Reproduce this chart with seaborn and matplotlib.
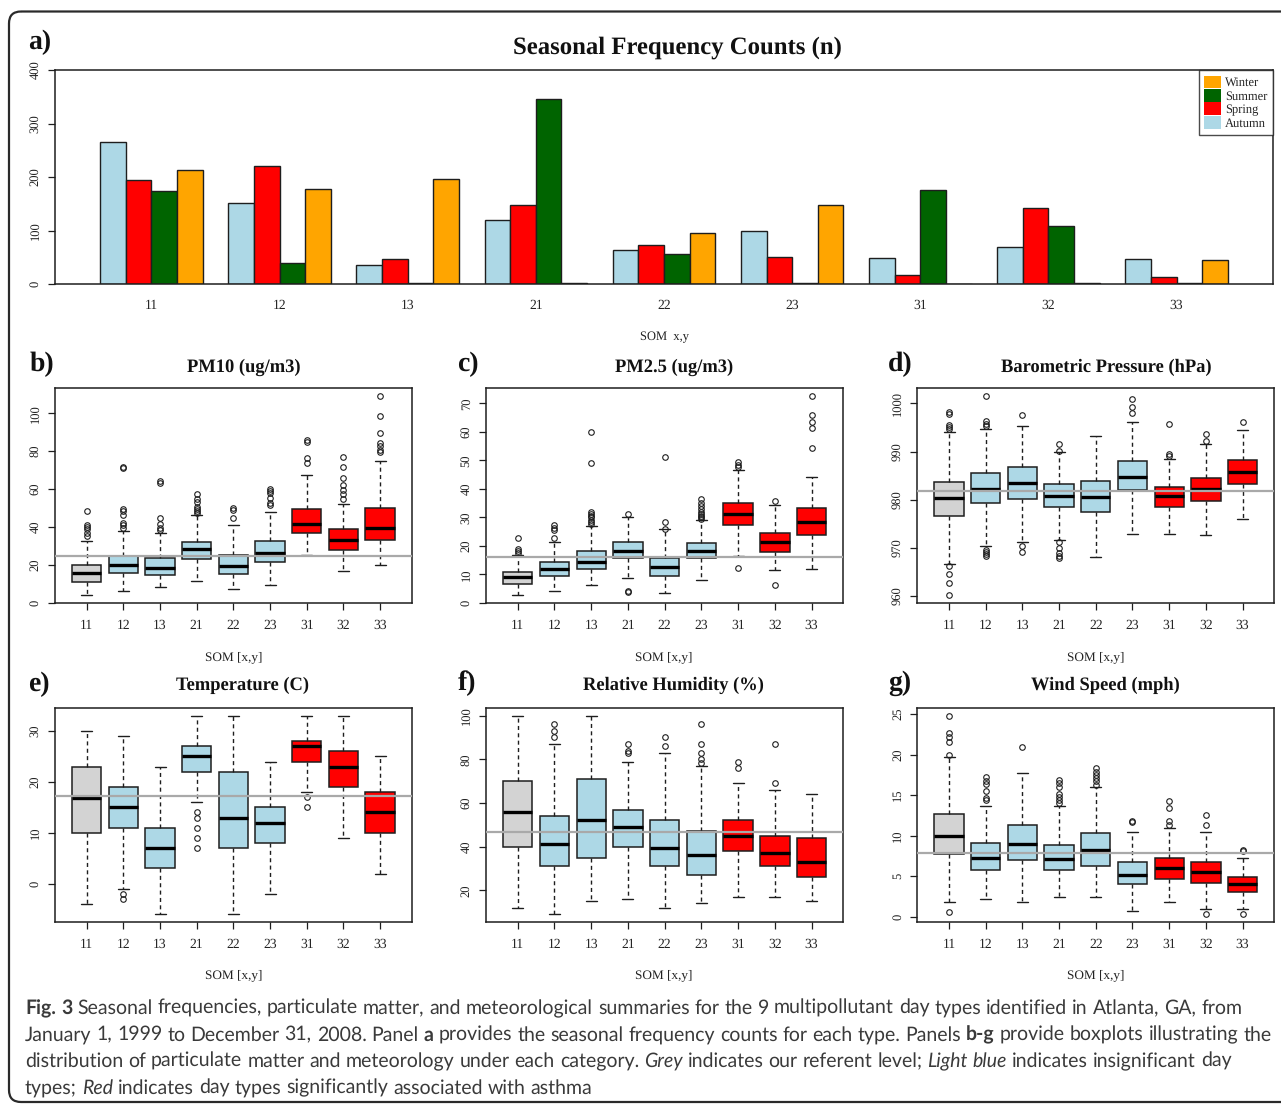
import numpy as np
import pandas as pd
import matplotlib
matplotlib.use("Agg")
import matplotlib.pyplot as plt
import seaborn as sns
from matplotlib.patches import FancyBboxPatch, Patch

# ---------------- data ----------------
SOM = ["11", "12", "13", "21", "22", "23", "31", "32", "33"]
SEASONS = ["Autumn", "Spring", "Summer", "Winter"]
autumn_n = [265, 152, 36, 119, 64, 100, 49, 70, 46]
spring_n = [195, 220, 47, 147, 72, 50, 17, 142, 14]
summer_n = [173, 39, 1, 346, 56, 2, 176, 108, 1]
winter_n = [213, 177, 197, 1, 95, 147, 0, 2, 44]

# box category per day type
box_group = ["ref", "ins", "ins", "ins", "ins", "ins", "sig", "sig", "sig"]

# PM10
pm10_q1 = [10.7, 15.5, 14.6, 23.1, 15.0, 21.3, 36.6, 28.0, 33.1]
pm10_med = [15.5, 20.1, 18.1, 28.2, 19.5, 26.0, 41.7, 33.3, 39.6]
pm10_q3 = [20.1, 24.6, 23.4, 32.2, 25.4, 32.4, 49.3, 38.7, 50.2]
pm10_lo = [3.9, 6.3, 8.3, 11.3, 7.2, 9.3, 25.4, 16.7, 20.1]
pm10_hi = [32.7, 38.0, 37.0, 46.3, 40.8, 48.0, 67.6, 52.1, 75.0]
pm10_out = [[35.4, 36.6, 38.7, 40.1, 41.0, 48.6],
            [39.6, 41.0, 41.9, 46.3, 48.6, 49.5, 71.0, 71.7],
            [38.4, 39.6, 41.5, 44.7, 63.4, 64.3],
            [47.5, 48.6, 49.6, 50.5, 53.3, 54.8, 57.2],
            [44.7, 48.8, 49.8],
            [51.4, 52.5, 55.5, 57.9, 59.2, 60.0],
            [73.6, 76.2, 84.9, 85.7],
            [54.8, 57.2, 59.7, 62.1, 66.0, 71.7, 76.9],
            [79.6, 80.8, 82.6, 84.2, 89.4, 98.4, 109.0]]
pm10_ref = 24.8

# PM2.5
pm25_q1 = [6.7, 9.5, 11.7, 15.7, 9.5, 15.6, 27.2, 17.8, 23.8]
pm25_med = [8.9, 12.0, 14.4, 18.3, 12.5, 18.2, 31.1, 21.2, 28.5]
pm25_q3 = [10.8, 14.3, 18.1, 21.5, 15.8, 21.1, 35.0, 24.6, 33.4]
pm25_lo = [2.6, 4.1, 6.4, 8.8, 3.3, 7.9, 16.3, 11.4, 11.7]
pm25_hi = [16.9, 21.3, 26.8, 30.1, 25.8, 29.0, 46.7, 34.2, 44.0]
pm25_out = [[17.6, 18.3, 18.8, 22.9],
            [22.7, 25.4, 26.4, 27.4],
            [27.5, 28.5, 29.2, 30.0, 30.6, 31.2, 31.7, 48.9, 59.8],
            [3.6, 4.2, 31.1],
            [26.0, 28.5, 51.2],
            [29.5, 30.0, 30.6, 31.2, 32.0, 33.0, 34.0, 35.0, 36.3],
            [12.2, 47.6, 48.5, 49.4],
            [6.3, 35.8],
            [54.5, 61.4, 63.3, 65.8, 72.5]]
pm25_ref = 16.1

# Barometric pressure
bp_q1 = [976.6, 979.2, 980.2, 978.5, 977.4, 982.0, 978.5, 979.7, 983.3]
bp_med = [980.3, 982.2, 983.5, 980.8, 980.5, 984.8, 980.8, 982.2, 985.8]
bp_q3 = [983.6, 985.5, 986.7, 983.3, 983.8, 988.1, 982.7, 984.5, 988.3]
bp_lo = [966.6, 970.3, 971.2, 971.6, 968.0, 972.9, 972.9, 972.7, 976.0]
bp_hi = [994.0, 994.7, 995.3, 989.9, 993.2, 996.1, 988.5, 991.6, 994.4]
bp_out = [[960.1, 962.6, 964.6, 966.2, 994.6, 995.1, 995.5, 997.9, 998.3],
          [968.3, 968.7, 969.1, 969.6, 995.3, 995.8, 996.4, 1001.5],
          [969.1, 970.3, 997.6],
          [967.8, 968.3, 969.0, 970.0, 971.2, 990.2, 991.6],
          [],
          [998.1, 999.2, 1000.9],
          [989.1, 989.5, 995.7],
          [992.1, 993.6],
          [996.2]]
bp_ref = 981.7

# Temperature
temp_q1 = [10, 11, 3, 22, 7, 8, 24, 19, 10]
temp_med = [16.8, 15, 7, 25, 13, 12, 27, 23, 14]
temp_q3 = [23, 19, 11, 27, 22, 15, 28, 26, 18]
temp_lo = [-4, -1, -6, 16, -6, -2, 18, 9, 2]
temp_hi = [30, 29, 23, 33, 33, 24, 33, 33, 25]
temp_out = [[], [-2, -3], [], [14, 13, 11, 9, 7], [], [], [17, 15], [], []]
temp_ref = 17.2

# Relative humidity
rh_q1 = [40, 31, 35, 40, 31, 27, 38, 31, 26]
rh_med = [56, 41, 52, 49, 39.5, 36, 45, 37, 33]
rh_q3 = [70, 54, 71, 57, 52, 47, 52, 45, 44]
rh_lo = [12, 9, 15, 16, 12, 14, 17, 17, 15]
rh_hi = [100, 87, 100, 79, 83, 77, 69, 66, 64]
rh_out = [[], [90, 93, 96], [], [83, 84, 87], [86, 90],
          [78.5, 80, 83, 87, 96], [76, 79], [69, 87], []]
rh_ref = 46.9

# Wind speed
ws_q1 = [7.8, 5.8, 6.95, 5.8, 6.3, 4.0, 4.7, 4.2, 3.0]
ws_med = [10.0, 7.3, 9.0, 7.15, 8.2, 5.2, 6.0, 5.5, 4.0]
ws_q3 = [12.7, 9.1, 11.3, 8.9, 10.3, 6.7, 7.3, 6.8, 4.9]
ws_lo = [1.85, 2.2, 1.8, 2.5, 2.4, 0.7, 1.8, 1.0, 0.9]
ws_hi = [19.7, 13.7, 17.7, 13.6, 16.0, 10.4, 11.0, 10.4, 7.3]
ws_out = [[0.6, 20.0, 21.5, 22.2, 22.6, 24.8],
          [14.4, 14.7, 15.5, 16.4, 16.7, 17.2],
          [20.9],
          [14.0, 14.4, 14.8, 15.2, 16.0, 16.5, 16.9],
          [16.3, 16.7, 17.1, 17.5, 17.9, 18.3],
          [11.7, 11.8],
          [11.3, 11.8, 13.4, 14.3],
          [0.3, 11.3, 12.5],
          [0.3, 8.1, 8.2]]
ws_ref = 7.9

# ---------------- style ----------------
sns.set_theme(style="white")
plt.rcParams["font.family"] = ["Liberation Serif", "DejaVu Serif"]
plt.rcParams["axes.unicode_minus"] = False
plt.rcParams["text.hinting"] = "no_hinting"

SEASON_COLORS = {"Autumn": "#ADD8E6", "Spring": "#FF0000",
                 "Summer": "#006400", "Winter": "#FFA500"}
GROUP_COLORS = {"ref": "#D3D3D3", "ins": "#ADD8E6", "sig": "#FF0000"}
INK = "#1e1e1e"

W, H = 1281, 1105
fig = plt.figure(figsize=(W / 100, H / 100), dpi=100)
fig.patch.set_facecolor("white")

ov = fig.add_axes([0, 0, 1, 1])
ov.set_xlim(0, W)
ov.set_ylim(H, 0)
ov.axis("off")
ov.patch.set_alpha(0)
ov.set_zorder(-1)
renderer = fig.canvas.get_renderer()


def px_axes(x0, y0, x1, y1):
    return fig.add_axes([x0 / W, 1 - y1 / H, (x1 - x0) / W, (y1 - y0) / H])


def text_w(s, size, weight="normal", style="normal", family=None):
    kw = dict(fontsize=size, fontweight=weight, fontstyle=style)
    if family is not None:
        kw["family"] = family
    t = ov.text(0, 0, s, **kw)
    w = t.get_window_extent(renderer=renderer).width
    t.remove()
    return w


def style_axes(ax, xpad=6.4, xlen=4.8):
    for s in ax.spines.values():
        s.set_visible(True)
        s.set_color(INK)
        s.set_linewidth(1.1)
    ax.tick_params(axis="both", direction="out", width=0.9, color=INK,
                   labelcolor="#222222", left=True, bottom=True)
    ax.tick_params(axis="x", labelsize=9.8, pad=xpad, length=xlen)
    ax.tick_params(axis="y", labelsize=9, pad=5.0, length=4.8)
    plt.setp(ax.get_yticklabels(), rotation=90, va="center")
    ax.grid(False)


# ---------------- panel a ----------------
axa = px_axes(55, 70, 1273, 284)
df = pd.DataFrame({
    "SOM": SOM * 4,
    "season": np.repeat(SEASONS, len(SOM)),
    "n": autumn_n + spring_n + summer_n + winter_n,
})
sns.barplot(data=df, x="SOM", y="n", hue="season", order=SOM, hue_order=SEASONS,
            palette=SEASON_COLORS, width=0.8, saturation=1, edgecolor=INK,
            linewidth=1.0, errorbar=None, legend=False, ax=axa)
axa.set_xlim(-0.752, 8.752)
axa.set_ylim(0, 400)
axa.set_yticks([0, 100, 200, 300, 400])
axa.set_xlabel("")
axa.set_ylabel("")
style_axes(axa, xpad=11.0, xlen=0)
handles = [Patch(facecolor=SEASON_COLORS[s], edgecolor="none", label=s)
           for s in ["Winter", "Summer", "Spring", "Autumn"]]
leg = axa.legend(handles=handles, loc="upper right", bbox_to_anchor=(1, 1),
                 borderaxespad=0, frameon=True, fancybox=False, edgecolor=INK,
                 fontsize=9, handlelength=1.35, handleheight=1.2,
                 handletextpad=0.3, labelspacing=0, borderpad=0.45)
leg.get_frame().set_linewidth(1.0)
leg.get_frame().set_facecolor("white")

# ---------------- boxplot panels ----------------
def draw_box(ax, q1, med, q3, lo, hi, out, ref, yticks):
    stats = [dict(q1=a, med=m, q3=b, whislo=l, whishi=h, fliers=f)
             for a, m, b, l, h, f in zip(q1, med, q3, lo, hi, out)]
    pos = np.arange(len(SOM))
    bpl = ax.bxp(stats, positions=pos, widths=0.8, capwidths=0.3,
                 patch_artist=True, showfliers=True,
                 boxprops=dict(edgecolor=INK, linewidth=1.1),
                 medianprops=dict(color="black", linewidth=2.4, solid_capstyle="butt"),
                 whiskerprops=dict(color=INK, linewidth=1.0, linestyle=(0, (2.9, 2.4))),
                 capprops=dict(color=INK, linewidth=1.0),
                 flierprops=dict(marker="o", markerfacecolor="none", markeredgecolor=INK,
                                 markersize=4, markeredgewidth=0.8))
    for patch, g in zip(bpl["boxes"], box_group):
        patch.set_facecolor(GROUP_COLORS[g])
    ax.axhline(ref, color="#A9A9A9", lw=1.6, zorder=6)
    allv = list(lo) + list(hi) + [v for f in out for v in f]
    mn, mx = min(allv), max(allv)
    pad = 0.04 * (mx - mn)
    ax.set_ylim(mn - pad, mx + pad)
    ax.set_xlim(-0.864, len(SOM) - 1 + 0.864)
    ax.set_xticks(pos)
    ax.set_xticklabels(SOM)
    ax.set_yticks(yticks)
    ax.set_yticklabels([str(t) for t in yticks])
    style_axes(ax)


top_y0, top_y1 = 388.3, 603.3
bot_y0, bot_y1 = 707.7, 922.3
colx = [(55, 411.7), (486, 843.3), (917.3, 1274.3)]

axb = px_axes(colx[0][0], top_y0, colx[0][1], top_y1)
draw_box(axb, pm10_q1, pm10_med, pm10_q3, pm10_lo, pm10_hi, pm10_out, pm10_ref,
         [0, 20, 40, 60, 80, 100])
axc = px_axes(colx[1][0], top_y0, colx[1][1], top_y1)
draw_box(axc, pm25_q1, pm25_med, pm25_q3, pm25_lo, pm25_hi, pm25_out, pm25_ref,
         [0, 10, 20, 30, 40, 50, 60, 70])
axd = px_axes(colx[2][0], top_y0, colx[2][1], top_y1)
draw_box(axd, bp_q1, bp_med, bp_q3, bp_lo, bp_hi, bp_out, bp_ref,
         [960, 970, 980, 990, 1000])
axe = px_axes(colx[0][0], bot_y0, colx[0][1], bot_y1)
draw_box(axe, temp_q1, temp_med, temp_q3, temp_lo, temp_hi, temp_out, temp_ref,
         [0, 10, 20, 30])
axf = px_axes(colx[1][0], bot_y0, colx[1][1], bot_y1)
draw_box(axf, rh_q1, rh_med, rh_q3, rh_lo, rh_hi, rh_out, rh_ref,
         [20, 40, 60, 80, 100])
axg = px_axes(colx[2][0], bot_y0, colx[2][1], bot_y1)
draw_box(axg, ws_q1, ws_med, ws_q3, ws_lo, ws_hi, ws_out, ws_ref,
         [0, 5, 10, 15, 20, 25])

# ---------------- titles & labels ----------------
title_a = "Seasonal Frequency Counts (n)"
sa = 10 * 329 / text_w(title_a, 10, "bold")
ov.text(677, 48, title_a, fontsize=sa, fontweight="bold", ha="center", va="center",
        color="#111111")

titles = ["PM10 (ug/m3)", "PM2.5 (ug/m3)", "Barometric Pressure (hPa)",
          "Temperature (C)", "Relative Humidity (%)", "Wind Speed (mph)"]
title_w = [114, 117, 211.7, 134, 181, 148]
title_xy = [(243.3, 367.7), (674, 367.7), (1106.7, 367.7),
            (243, 685.7), (673.3, 685.7), (1105.7, 685.7)]
sizes = [10 * tw / text_w(t, 10, "bold") for t, tw in zip(titles, title_w)]
st = float(np.mean(sizes))
for t, (x, y) in zip(titles, title_xy):
    ov.text(x, y, t, fontsize=st, fontweight="bold", ha="center", va="center",
            color="#111111")

panel_labels = ["a)", "b)", "c)", "d)", "e)", "f)", "g)"]
label_xy = [(28.3, 42), (30, 364.5), (457.3, 364), (888.3, 364),
            (28.3, 684), (457.3, 683), (888.3, 683)]
for lab, (x, y) in zip(panel_labels, label_xy):
    ov.text(x, y, lab, fontsize=20, fontweight="bold", ha="left", va="center",
            color="#111111")

ov.text(664, 337, "SOM  x,y", fontsize=9, ha="center", va="center", color="#222222")
som_xy = [(233.3, 656.7), (664, 656.7), (1095.7, 656.7),
          (233.3, 975), (664, 975), (1095.7, 975)]
for x, y in som_xy:
    ov.text(x, y, "SOM [x,y]", fontsize=9.5, ha="center", va="center", color="#222222")

# ---------------- frame ----------------
frame = FancyBboxPatch((9, 11.5), 1300, 1090.5,
                       boxstyle="round,pad=0,rounding_size=12",
                       linewidth=1.6, edgecolor="#2a2a2a", facecolor="none",
                       transform=ov.transData, clip_on=False)
ov.add_patch(frame)

# ---------------- caption ----------------
CAP_FONT = ["Lato", "DejaVu Sans"]
CAP_COLOR = "#3a3a3a"
cap_lines = [
    [("Fig.", "b"), ("3", "b"), ("Seasonal", "n"), ("frequencies,", "n"), ("particulate", "n"),
     ("matter,", "n"), ("and", "n"), ("meteorological", "n"), ("summaries", "n"), ("for", "n"),
     ("the", "n"), ("9", "n"), ("multipollutant", "n"), ("day", "n"), ("types", "n"),
     ("identified", "n"), ("in", "n"), ("Atlanta,", "n"), ("GA,", "n"), ("from", "n")],
    [("January", "n"), ("1,", "n"), ("1999", "n"), ("to", "n"), ("December", "n"), ("31,", "n"),
     ("2008.", "n"), ("Panel", "n"), ("a", "b"), ("provides", "n"), ("the", "n"),
     ("seasonal", "n"), ("frequency", "n"), ("counts", "n"), ("for", "n"), ("each", "n"),
     ("type.", "n"), ("Panels", "n"), ("b-g", "b"), ("provide", "n"), ("boxplots", "n"),
     ("illustrating", "n"), ("the", "n")],
    [("distribution", "n"), ("of", "n"), ("particulate", "n"), ("matter", "n"), ("and", "n"),
     ("meteorology", "n"), ("under", "n"), ("each", "n"), ("category.", "n"), ("Grey", "i"),
     ("indicates", "n"), ("our", "n"), ("referent", "n"), ("level;", "n"), ("Light", "i"),
     ("blue", "i"), ("indicates", "n"), ("insignificant", "n"), ("day", "n")],
    [("types;", "n"), ("Red", "i"), ("indicates", "n"), ("day", "n"), ("types", "n"),
     ("significantly", "n"), ("associated", "n"), ("with", "n"), ("asthma", "n")],
]
cap_targets = [1247, 1248, 1214, 567]
cap_baselines = [1014, 1040.5, 1067, 1093.5]


def wstyle(s):
    return ("bold" if s == "b" else "normal", "italic" if s == "i" else "normal")


def line_natural(words, size):
    sp = text_w("x x", size, family=CAP_FONT) - text_w("xx", size, family=CAP_FONT)
    ws = []
    for w, s in words:
        wt, stl = wstyle(s)
        ws.append(text_w(w, size, wt, stl, CAP_FONT))
    return ws, sp


base = 10.0
nat = []
for words in cap_lines:
    ws, sp = line_natural(words, base)
    nat.append(sum(ws) + sp * (len(ws) - 1))
nat = np.array(nat)
tg = np.array(cap_targets, dtype=float)
cap_size = base * float(np.min(tg[:3] / nat[:3]))

for words, yb in zip(cap_lines, cap_baselines):
    ws, sp = line_natural(words, cap_size)
    x = 25
    for (w, s), wd in zip(words, ws):
        wt, stl = wstyle(s)
        ov.text(x, yb, w, fontsize=cap_size, fontweight=wt, fontstyle=stl,
                family=CAP_FONT, ha="left", va="baseline", color=CAP_COLOR)
        x += wd + sp

fig.savefig("out.png", dpi=100, facecolor="white")
